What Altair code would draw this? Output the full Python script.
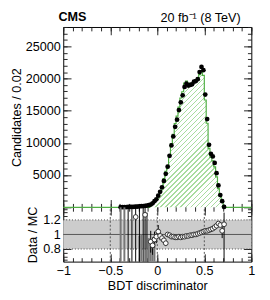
import altair as alt
import pandas as pd

# ---------------- data ----------------
bin_width = 0.02
data_first_center = -0.39
data_counts = [20, 30, 30, 40, 50, 60, 70, 80, 100, 120,
               150, 170, 200, 240, 280, 330, 430, 620, 950, 1250,
               1800, 2400, 3100, 4100, 5200, 6300, 8000, 9600, 11000, 12500,
               13600, 15100, 16300, 17400, 18700, 19200, 18900, 19000, 19100, 19500,
               19600, 19900, 21000, 21800, 21300, 17500, 13700, 9700, 8300, 7900,
               6900, 5300, 3400, 1900, 950, 60]

mc_first_edge = -0.08
mc_counts = [480, 740, 1020, 1290,
             1730, 2450, 3260, 4460, 5600, 6300, 8080, 9900, 11340, 13020,
             14170, 15570, 16980, 17940, 19280, 19590, 19290, 19190, 19290, 19500,
             19600, 19700, 20600, 21170, 20480, 16670, 13050, 9150, 7760, 7220,
             6270, 4730, 2900, 1680, 900, 60]

ratio_x = [-0.23, -0.13, -0.07, -0.05, -0.03, -0.01,
           0.01, 0.03, 0.05, 0.07, 0.09, 0.11, 0.13, 0.15, 0.17, 0.19,
           0.21, 0.23, 0.25, 0.27, 0.29, 0.31, 0.33, 0.35, 0.37, 0.39,
           0.41, 0.43, 0.45, 0.47, 0.49, 0.51, 0.53, 0.55, 0.57, 0.59,
           0.61, 0.63, 0.65, 0.67, 0.69, 0.71]
ratio_val = [1.24, 1.27, 0.90, 0.85, 0.93, 0.97,
             1.04, 0.98, 0.95, 0.92, 0.88, 1.00, 0.99, 0.97, 0.97, 0.96,
             0.96, 0.97, 0.96, 0.97, 0.97, 0.98, 0.98, 0.99, 0.99, 1.00,
             1.00, 1.01, 1.02, 1.03, 1.04, 1.05, 1.05, 1.06, 1.07, 1.08,
             1.10, 1.12, 1.15, 1.13, 1.05, 1.14]

err_x = [-0.31, -0.27, -0.23, -0.19, -0.15, -0.13, -0.11, -0.07, -0.05, -0.03,
         -0.01, 0.01, 0.03, 0.05, 0.07, 0.09, 0.11, 0.13, 0.69, 0.71]
err_lo = [0.0, 0.0, 0.0, 0.0, 0.0, 0.0, 0.50, 0.75, 0.72, 0.82,
          0.88, 0.95, 0.92, 0.90, 0.88, 0.84, 0.97, 0.96, 0.95, 0.0]
err_hi = [3.0, 3.0, 3.0, 3.0, 3.0, 3.0, 1.30, 1.05, 0.96, 1.04,
          1.06, 1.13, 1.04, 1.00, 0.96, 0.92, 1.03, 1.02, 1.15, 1.30]

mcerr_x = [-0.39, -0.35, -0.19, -0.17, -0.09, -0.07, -0.05, -0.03]
mcerr_lo = [0.0, 0.0, 0.0, 0.0, 0.0, 0.0, 0.0, 0.60]
mcerr_hi = [3.0, 3.0, 0.98, 1.00, 0.95, 0.88, 0.80, 0.90]

band_lo, band_hi = 0.8, 1.2
ref_lines_solid = [1.0]
ref_lines_dotted = [0.8, 1.2]
grid_x = [-0.5, 0.0, 0.5]

x_major = [-1, -0.5, 0, 0.5, 1]
x_minor = [round(-1 + 0.1 * i, 1) for i in range(21)]
y_major = [0, 5000, 10000, 15000, 20000, 25000]
y_labels = [5000, 10000, 15000, 20000, 25000]
y_minor = list(range(0, 28001, 1000))
r_major = [0.8, 1.0, 1.2]
r_minor = [round(0.65 + 0.05 * i, 2) for i in range(15)]

x_domain = [-1, 1]
y_domain = [0, 28000]
r_domain = [0.627, 1.373]

label_left = "CMS"
label_right = "20 fb\u207b\u00b9 (8 TeV)"
y_title = "Candidates / 0.02"
r_title = "Data / MC"
x_title = "BDT discriminator"

GREEN = "#4fae43"
HATCH = "#a9dca0"

# ---------------- layout ----------------
W, H_MAIN, H_RATIO = 194, 186, 56
H = H_MAIN + H_RATIO

# ---------------- frames ----------------
data_df = pd.DataFrame({
    "x": [round(data_first_center + bin_width * i, 2) for i in range(len(data_counts))],
    "y": data_counts,
})
n_bins = int(round((x_domain[1] - x_domain[0]) / bin_width))
edges = [round(x_domain[0] + bin_width * i, 2) for i in range(n_bins + 1)]
start_idx = int(round((mc_first_edge - x_domain[0]) / bin_width))
full = [0] * n_bins
for i, v in enumerate(mc_counts):
    full[start_idx + i] = v
line_df = pd.DataFrame({"x": edges, "y": full + [0]})
area_edges = [round(mc_first_edge + bin_width * i, 2) for i in range(len(mc_counts) + 1)]
area_df = pd.DataFrame({"x": area_edges, "y": mc_counts + [mc_counts[-1]]})

ratio_df = pd.DataFrame({"x": ratio_x, "r": ratio_val})
err_df = pd.DataFrame({"x": err_x, "lo": err_lo, "hi": err_hi})
mcerr_df = pd.DataFrame({"x": mcerr_x, "lo": mcerr_lo, "hi": mcerr_hi})
band_df = pd.DataFrame({"x": [x_domain[0]], "x2": [x_domain[1]], "lo": [band_lo], "hi": [band_hi]})
solid_df = pd.DataFrame({"x": [x_domain[0]], "x2": [x_domain[1]], "y": ref_lines_solid})
dotted_df = pd.DataFrame({"x": [x_domain[0]] * 2, "x2": [x_domain[1]] * 2, "y": ref_lines_dotted})
grid_df = pd.DataFrame({"x": grid_x, "lo": [r_domain[0]] * 3, "hi": [r_domain[1]] * 3})

# ---------------- scales ----------------
xs = alt.Scale(domain=x_domain, nice=False, zero=False)
ys = alt.Scale(domain=y_domain, range=[H_MAIN, 0], nice=False, zero=False)
rs = alt.Scale(domain=r_domain, range=[H, H_MAIN], nice=False, zero=False, clamp=True)


def tick_axis(orient, offset, size, values):
    return alt.Axis(orient=orient, offset=offset, tickSize=size, values=values,
                    labels=False, domain=False, grid=False, title=None,
                    ticks=True, tickColor="#222222", tickWidth=1)


# hatch-like fill via a striped gradient
aw = (area_edges[-1] - area_edges[0]) / (x_domain[1] - x_domain[0]) * W
ah = max(mc_counts) / y_domain[1] * H_MAIN
s = (aw + ah) / (aw * aw + ah * ah)
N = int((aw + ah) / 2 ** 0.5 / 3.6)
stops = []
for k in range(N):
    a = k / N
    b = (k + 0.26) / N
    stops += [alt.GradientStop(offset=a, color="white"),
              alt.GradientStop(offset=a, color=HATCH),
              alt.GradientStop(offset=b, color=HATCH),
              alt.GradientStop(offset=b, color="white")]
stops.append(alt.GradientStop(offset=1, color="white"))
hatch = alt.LinearGradient(gradient="linear", stops=stops, x1=0, y1=0, x2=s * aw, y2=s * ah)

# ---------------- main panel ----------------
area = alt.Chart(area_df).mark_area(interpolate="step-after", color=hatch).encode(
    x=alt.X("x:Q", scale=xs, axis=tick_axis("bottom", -H, 8, x_major)),
    y=alt.Y("y:Q", scale=ys, axis=alt.Axis(orient="left", values=y_labels, format="d",
                                          ticks=False, domain=False, grid=False,
                                          labelPadding=3, title=y_title, titlePadding=2)),
)
line = alt.Chart(line_df).mark_line(interpolate="step-after", color=GREEN, strokeWidth=1.2).encode(
    x=alt.X("x:Q", scale=xs, axis=tick_axis("bottom", -H, 4, x_minor)),
    y=alt.Y("y:Q", scale=ys, axis=tick_axis("right", -W, 8, y_major)),
)
pts = alt.Chart(data_df).mark_circle(size=24, color="black", opacity=1).encode(
    x=alt.X("x:Q", scale=xs, axis=tick_axis("top", -H_MAIN, 8, x_major)),
    y=alt.Y("y:Q", scale=ys, axis=tick_axis("right", -W, 4, y_minor)),
)
carrier1 = alt.Chart(data_df).mark_point(opacity=0).encode(
    x=alt.X("x:Q", scale=xs, axis=tick_axis("top", -H_MAIN, 4, x_minor)),
    y=alt.Y("y:Q", scale=ys, axis=tick_axis("left", -W, 8, y_major)),
)
carrier2 = alt.Chart(data_df).mark_point(opacity=0).encode(
    x=alt.X("x:Q", scale=xs, axis=None),
    y=alt.Y("y:Q", scale=ys, axis=tick_axis("left", -W, 4, y_minor)),
)
txt_l = alt.Chart(pd.DataFrame({"t": [label_left]})).mark_text(
    font="Liberation Sans", fontWeight="bold", fontSize=13, align="left", baseline="alphabetic", color="black"
).encode(text="t:N", x=alt.value(-5), y=alt.value(-6))
txt_r = alt.Chart(pd.DataFrame({"t": [label_right]})).mark_text(
    font="Liberation Sans", fontSize=13, align="right", baseline="alphabetic", color="black"
).encode(text="t:N", x=alt.value(183), y=alt.value(-5))

main = alt.layer(area, line, pts, carrier1, carrier2, txt_l, txt_r).resolve_axis(x="independent", y="independent")

# ---------------- ratio panel ----------------
band = alt.Chart(band_df).mark_rect(color="#cccccc").encode(
    x=alt.X("x:Q", scale=xs, axis=alt.Axis(orient="bottom", values=x_major, format="~g", ticks=False,
                                          domain=False, grid=False, labelPadding=3, labelFlush=False,
                                          labelOverlap=False, title=x_title, titlePadding=3)),
    x2="x2:Q",
    y=alt.Y("lo:Q", scale=rs, axis=alt.Axis(orient="left", values=r_major, format="~g", ticks=False,
                                           domain=False, grid=False, labelPadding=3, title=r_title,
                                           titlePadding=3)),
    y2="hi:Q",
)
solid = alt.Chart(solid_df).mark_rule(color="#555555", strokeWidth=1).encode(
    x=alt.X("x:Q", scale=xs, axis=tick_axis("top", -H, 8, x_major)),
    x2="x2:Q",
    y=alt.Y("y:Q", scale=rs, axis=tick_axis("right", -W, 8, r_major)),
)
dotted = alt.Chart(dotted_df).mark_rule(color="#444444", strokeWidth=1, strokeDash=[1, 2]).encode(
    x=alt.X("x:Q", scale=xs, axis=tick_axis("top", -H, 4, x_minor)),
    x2="x2:Q",
    y=alt.Y("y:Q", scale=rs, axis=tick_axis("right", -W, 4, r_minor)),
)
grid = alt.Chart(grid_df).mark_rule(color="#555555", strokeWidth=1, strokeDash=[2, 2]).encode(
    x=alt.X("x:Q", scale=xs, axis=tick_axis("bottom", -H_RATIO, 8, x_major)),
    y=alt.Y("lo:Q", scale=rs, axis=tick_axis("left", -W, 8, r_major)),
    y2="hi:Q",
)
mcerr = alt.Chart(mcerr_df).mark_rule(color="#777777", strokeWidth=2).encode(
    x=alt.X("x:Q", scale=xs, axis=tick_axis("bottom", -H_RATIO, 4, x_minor)),
    y=alt.Y("lo:Q", scale=rs, axis=tick_axis("left", -W, 4, r_minor)),
    y2="hi:Q",
)
err = alt.Chart(err_df).mark_rule(color="black", strokeWidth=1).encode(
    x=alt.X("x:Q", scale=xs, axis=None),
    y=alt.Y("lo:Q", scale=rs, axis=None),
    y2="hi:Q",
)
rpts = alt.Chart(ratio_df).mark_point(shape="circle", filled=True, fill="white", stroke="#333333",
                                      strokeWidth=1, size=24, opacity=1).encode(
    x=alt.X("x:Q", scale=xs, axis=None),
    y=alt.Y("r:Q", scale=rs, axis=None),
)

ratio = alt.layer(band, solid, dotted, grid, mcerr, err, rpts).resolve_axis(x="independent", y="independent")

chart = alt.layer(main, ratio).resolve_scale(y="independent").resolve_axis(
    x="independent", y="independent"
).properties(
    width=W, height=H,
    autosize=alt.AutoSizeParams(type="none"),
    padding={"left": 57, "top": 15, "right": 11, "bottom": 35},
).configure_view(stroke="black", strokeWidth=1).configure_axis(
    labelFont="Liberation Sans", titleFont="Liberation Sans", labelFontSize=13, titleFontSize=13,
    labelColor="black", titleColor="black", titleFontWeight="normal", tickColor="black", grid=False
)

chart.save("out.html", embed_options={"renderer": "svg", "actions": False})
